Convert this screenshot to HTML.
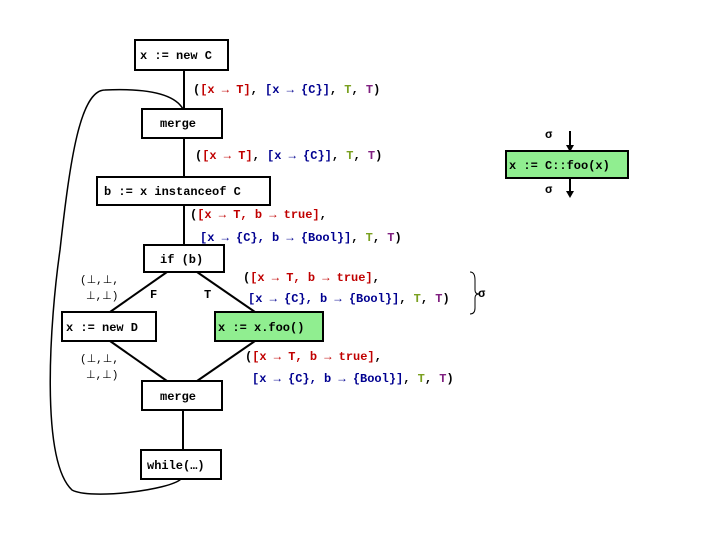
<!DOCTYPE html>
<html><head><style>
body{margin:0;background:#fff}
svg text{font-family:"Liberation Mono",monospace;font-size:12px;font-weight:bold}
.r{fill:#c00000}.b{fill:#000090}.g{fill:#7aa020}.p{fill:#802080}.k{fill:#000}
</style></head><body>
<svg width="720" height="540" xmlns="http://www.w3.org/2000/svg">
<g stroke="#000" stroke-width="2" fill="none">
<line x1="184" y1="70" x2="184" y2="109"/>
<line x1="184" y1="138" x2="184" y2="177"/>
<line x1="184" y1="205" x2="184" y2="245"/>
<line x1="167" y1="272" x2="110" y2="312"/>
<line x1="197" y1="272" x2="255" y2="312"/>
<line x1="110" y1="341" x2="167" y2="381"/>
<line x1="255" y1="341" x2="197" y2="381"/>
<line x1="183" y1="410" x2="183" y2="450"/>
<path d="M181,479 C170,490 90,500 72,490 C40,460 50,320 60,250 C70,160 80,90 105,90 C150,88 175,95 183,109" stroke-width="1.5"/>
<line x1="570" y1="131" x2="570" y2="146"/>
<line x1="570" y1="178" x2="570" y2="192"/>
<path d="M470,272 Q475,272 475,280 L475,290 Q475,294 479,294 Q475,294 475,298 L475,308 Q475,314 470,314" stroke-width="1"/>
</g>
<polygon points="566,145 574,145 570,152" fill="#000"/>
<polygon points="566,191 574,191 570,198" fill="#000"/>
<g stroke="#000" stroke-width="2">
<rect x="135" y="40" width="93" height="30" fill="#fff"/>
<rect x="142" y="109" width="80" height="29" fill="#fff"/>
<rect x="97" y="177" width="173" height="28" fill="#fff"/>
<rect x="144" y="245" width="80" height="27" fill="#fff"/>
<rect x="62" y="312" width="94" height="29" fill="#fff"/>
<rect x="215" y="312" width="108" height="29" fill="#90ee90"/>
<rect x="142" y="381" width="80" height="29" fill="#fff"/>
<rect x="141" y="450" width="80" height="29" fill="#fff"/>
<rect x="506" y="151" width="122" height="27" fill="#90ee90"/>
</g>
<text x="140" y="59">x := new C</text>
<text x="160" y="127">merge</text>
<text x="104" y="195">b := x instanceof C</text>
<text x="160" y="263">if (b)</text>
<text x="66" y="331">x := new D</text>
<text x="218" y="331">x := x.foo()</text>
<text x="160" y="400">merge</text>
<text x="147" y="469">while(…)</text>
<text x="509" y="169">x := C::foo(x)</text>
<text x="545" y="138" font-size="14">σ</text>
<text x="545" y="193" font-size="14">σ</text>
<text x="478" y="297" font-size="14">σ</text>

<text x="193" y="93"><tspan class="k">(</tspan><tspan class="r">[x → T]</tspan><tspan class="k">, </tspan><tspan class="b">[x → {C}]</tspan><tspan class="k">, </tspan><tspan class="g">T</tspan><tspan class="k">, </tspan><tspan class="p">T</tspan><tspan class="k">)</tspan></text>
<text x="195" y="159"><tspan class="k">(</tspan><tspan class="r">[x → T]</tspan><tspan class="k">, </tspan><tspan class="b">[x → {C}]</tspan><tspan class="k">, </tspan><tspan class="g">T</tspan><tspan class="k">, </tspan><tspan class="p">T</tspan><tspan class="k">)</tspan></text>
<text x="190" y="218"><tspan class="k">(</tspan><tspan class="r">[x → T,   b → true]</tspan><tspan class="k">,</tspan></text>
<text x="200" y="241"><tspan class="b">[x → {C}, b → {Bool}]</tspan><tspan class="k">, </tspan><tspan class="g">T</tspan><tspan class="k">, </tspan><tspan class="p">T</tspan><tspan class="k">)</tspan></text>
<text x="243" y="281"><tspan class="k">(</tspan><tspan class="r">[x → T,   b → true]</tspan><tspan class="k">,</tspan></text>
<text x="248" y="302"><tspan class="b">[x → {C}, b → {Bool}]</tspan><tspan class="k">, </tspan><tspan class="g">T</tspan><tspan class="k">, </tspan><tspan class="p">T</tspan><tspan class="k">)</tspan></text>
<text x="245" y="360"><tspan class="k">(</tspan><tspan class="r">[x → T,   b → true]</tspan><tspan class="k">,</tspan></text>
<text x="252" y="382"><tspan class="b">[x → {C}, b → {Bool}]</tspan><tspan class="k">, </tspan><tspan class="g">T</tspan><tspan class="k">, </tspan><tspan class="p">T</tspan><tspan class="k">)</tspan></text>
<text x="150" y="298" font-size="11">F</text>
<text x="204" y="298" font-size="11">T</text>
<g font-weight="normal" style="font-weight:normal">
<text x="80" y="283" style="font-weight:normal;font-size:11px">(⊥,⊥,</text>
<text x="86" y="299" style="font-weight:normal;font-size:11px">⊥,⊥)</text>
<text x="80" y="362" style="font-weight:normal;font-size:11px">(⊥,⊥,</text>
<text x="86" y="378" style="font-weight:normal;font-size:11px">⊥,⊥)</text>
</g>
</svg>
</body></html>
